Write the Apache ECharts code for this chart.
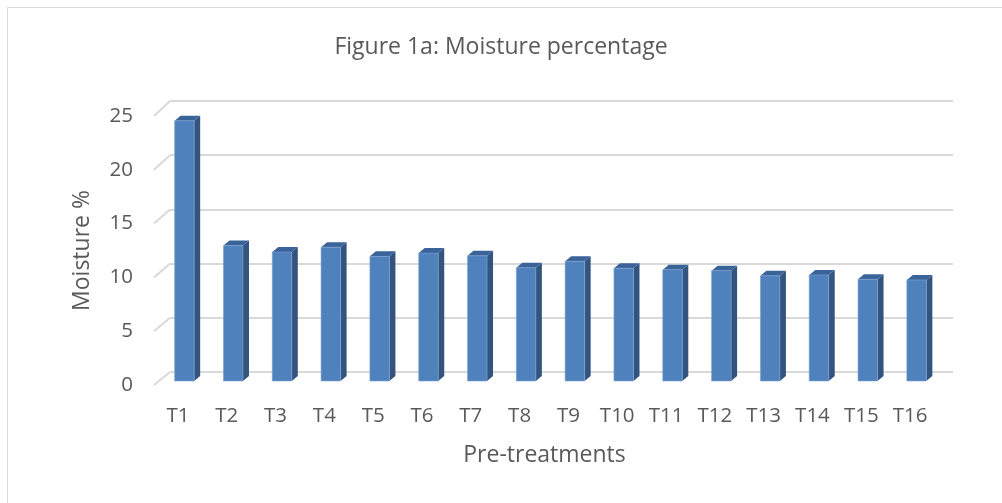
<!DOCTYPE html>
<html>
<head>
<meta charset="utf-8">
<script src="https://cdn.jsdelivr.net/npm/echarts@6/dist/echarts.min.js"></script>
<style>
html,body{margin:0;padding:0;background:#fff;}
#chart{width:1002px;height:503px;}
</style>
</head>
<body>
<div id="chart"></div>
<script>
const categories = ['T1','T2','T3','T4','T5','T6','T7','T8','T9','T10','T11','T12','T13','T14','T15','T16'];
const moisture = [24.0, 12.5, 11.9, 12.35, 11.5, 11.8, 11.55, 10.45, 11.05, 10.4, 10.27, 10.18, 9.7, 9.78, 9.38, 9.32];
const yTicks = [0, 5, 10, 15, 20, 25];
const titleText = 'Figure 1a: Moisture percentage';
const yName = 'Moisture %';
const xName = 'Pre-treatments';

const FONT = 'Open Sans';
const TXT = '#595959';
const GRIDC = '#d9d9d9';

const chart = echarts.init(document.getElementById('chart'), null, {renderer: 'canvas'});

const data = moisture.map((v, i) => [i, v]);

const option = {
  backgroundColor: '#ffffff',
  animation: false,
  title: {
    text: titleText,
    left: 'center',
    top: 31,
    textStyle: {fontFamily: FONT, fontSize: 23, fontWeight: 'normal', color: TXT}
  },
  grid: [
    {left: 170, right: 49, top: 101, height: 271},
    {left: 160, right: 61, top: 110, height: 271},
    {left: 154, right: 61, top: 116, height: 269}
  ],
  xAxis: [
    {gridIndex: 0, type: 'value', min: 0, max: 1, show: false},
    {gridIndex: 1, type: 'category', data: categories,
     axisLine: {show: false}, axisTick: {show: false},
     axisLabel: {fontFamily: FONT, fontSize: 20.5, color: TXT, margin: 25, padding: [0, 13, 0, 0], interval: 0},
     name: xName, nameLocation: 'middle', nameGap: 63,
     nameTextStyle: {fontFamily: FONT, fontSize: 23, color: TXT, padding: [0, 12, 0, 0]}},
    {gridIndex: 2, type: 'value', min: 0, max: 1, show: false}
  ],
  yAxis: [
    {gridIndex: 0, type: 'value', min: 0, max: 25, interval: 5,
     axisLine: {show: false}, axisTick: {show: false}, axisLabel: {show: false},
     splitLine: {show: true, lineStyle: {color: GRIDC, width: 2}}},
    {gridIndex: 1, type: 'value', min: 0, max: 25, interval: 5, show: false},
    {gridIndex: 2, type: 'value', min: 0, max: 25, interval: 5,
     axisLine: {show: false}, axisTick: {show: false}, splitLine: {show: false},
     axisLabel: {fontFamily: FONT, fontSize: 20.5, color: TXT, margin: 21},
     name: yName, nameLocation: 'middle', nameGap: 60, nameRotate: 90,
     nameTextStyle: {fontFamily: FONT, fontSize: 23, color: TXT}}
  ],
  series: [{
    type: 'custom',
    xAxisIndex: 1,
    yAxisIndex: 1,
    data: data,
    renderItem: function (params, api) {
      const i = api.value(0), v = api.value(1);
      const top = api.coord([i, v]);
      const base = api.coord([i, 0]);
      const bw = api.size([1, 0])[0] * 0.4;
      const x0 = top[0] - bw / 2, x1 = top[0] + bw / 2;
      const dx = 6, dy = -5;
      return {
        type: 'group',
        children: [
          {type: 'polygon', shape: {points: [[x1, top[1]], [x1 + dx, top[1] + dy], [x1 + dx, base[1] + dy], [x1, base[1]]]},
           style: {fill: '#32547f'}},
          {type: 'polygon', shape: {points: [[x0, top[1]], [x0 + dx, top[1] + dy], [x1 + dx, top[1] + dy], [x1, top[1]]]},
           style: {fill: '#3a6399'}},
          {type: 'rect', shape: {x: x0, y: top[1], width: bw, height: base[1] - top[1]},
           style: {fill: '#4f81bd', stroke: '#7fa3d0', lineWidth: 0.6}}
        ]
      };
    }
  }]
};
chart.setOption(option);

// diagonal floor/side-wall lines joining the front value axis to the back wall gridlines
const diag = yTicks.map(t => {
  const p2 = chart.convertToPixel({gridIndex: 2}, [0, t]);
  const p0 = chart.convertToPixel({gridIndex: 0}, [0, t]);
  return {type: 'line', shape: {x1: p2[0], y1: p2[1], x2: p0[0], y2: p0[1]},
          style: {stroke: GRIDC, lineWidth: 2}, z: 0};
});
const border = {type: 'rect', shape: {x: 7.5, y: 7.5, width: 1100, height: 600},
                style: {fill: null, stroke: '#d9d9d9', lineWidth: 1}, z: 0, silent: true};
chart.setOption({graphic: diag.concat([border])});
</script>
</body>
</html>
